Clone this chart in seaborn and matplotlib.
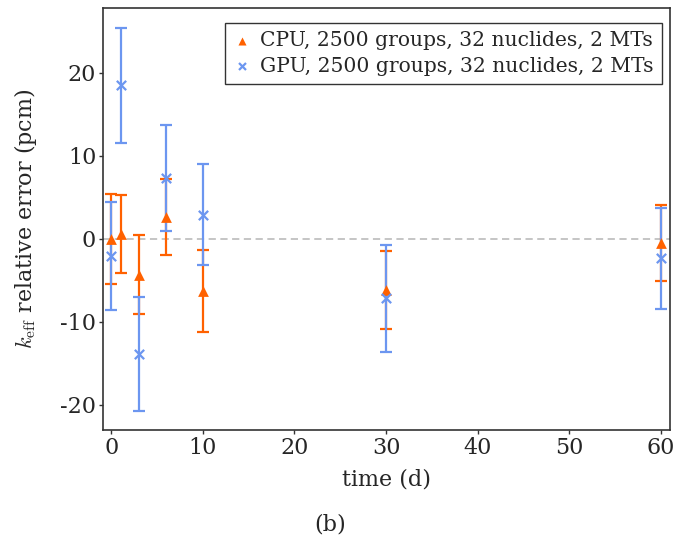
import matplotlib
matplotlib.use("Agg")
import matplotlib.pyplot as plt
import seaborn as sns
import pandas as pd

time_d = [0, 1, 3, 6, 10, 30, 60]
cpu_err = [0.0, 0.6, -4.3, 2.65, -6.3, -6.1, -0.5]
cpu_sd = [5.45, 4.7, 4.75, 4.55, 4.95, 4.7, 4.6]
gpu_err = [-2.1, 18.5, -13.85, 7.3, 2.9, -7.15, -2.35]
gpu_sd = [6.5, 6.9, 6.85, 6.4, 6.1, 6.45, 6.05]

cpu_label = "CPU, 2500 groups, 32 nuclides, 2 MTs"
gpu_label = "GPU, 2500 groups, 32 nuclides, 2 MTs"
cpu_color = "#ff6100"
gpu_color = "#6c96f0"

sns.set_theme(style="ticks")
plt.rcParams["font.family"] = ["DejaVu Serif"]
plt.rcParams["mathtext.fontset"] = "cm"
plt.rcParams["axes.unicode_minus"] = False

df = pd.DataFrame({
    "time": time_d * 2,
    "err": cpu_err + gpu_err,
    "sd": cpu_sd + gpu_sd,
    "series": [cpu_label] * len(time_d) + [gpu_label] * len(time_d),
})

fig = plt.figure(figsize=(6.97, 5.40), dpi=100)
ax = fig.add_axes([0.148, 0.204, 0.813, 0.781])

ax.axhline(0, color="#c0c0c0", ls=(0, (4, 2.5)), lw=1.3, zorder=0)

for lab, col in [(cpu_label, cpu_color), (gpu_label, gpu_color)]:
    sub = df[df["series"] == lab]
    ax.errorbar(sub["time"], sub["err"], yerr=sub["sd"], fmt="none",
                ecolor=col, elinewidth=1.6, capsize=4.5, capthick=1.6, zorder=2)

sns.scatterplot(data=df[df["series"] == cpu_label], x="time", y="err",
                marker="^", color=cpu_color, s=60, linewidth=0, ax=ax,
                zorder=3, label=cpu_label)
sns.scatterplot(data=df[df["series"] == gpu_label], x="time", y="err",
                marker="x", color=gpu_color, s=45, linewidth=1.6, ax=ax,
                zorder=3, label=gpu_label)

ax.set_xlim(-0.9, 61.0)
ax.set_ylim(-23.0, 27.8)
ax.set_xticks([0, 10, 20, 30, 40, 50, 60])
ax.set_yticks([-20, -10, 0, 10, 20])
ax.tick_params(labelsize=16, length=3, width=1, pad=2, color="#333333")
for s in ax.spines.values():
    s.set_color("#333333")
    s.set_linewidth(1.2)
    s.set_visible(True)

ax.set_xlabel("time (d)", fontsize=16, labelpad=7)
ax.set_ylabel(r"$k_{\mathrm{eff}}$ relative error (pcm)", fontsize=16, labelpad=15)

leg = ax.legend(loc="upper right", bbox_to_anchor=(1.0, 0.983),
                fontsize=14.6, frameon=True, fancybox=False,
                edgecolor="black", handletextpad=0.45, borderpad=0.4,
                handlelength=0.9, labelspacing=0.3, markerscale=0.75,
                borderaxespad=0.4)
leg.get_frame().set_linewidth(1.0)

fig.text(0.474, 0.018, "(b)", fontsize=16, ha="center")

fig.savefig("out.png", dpi=100)
